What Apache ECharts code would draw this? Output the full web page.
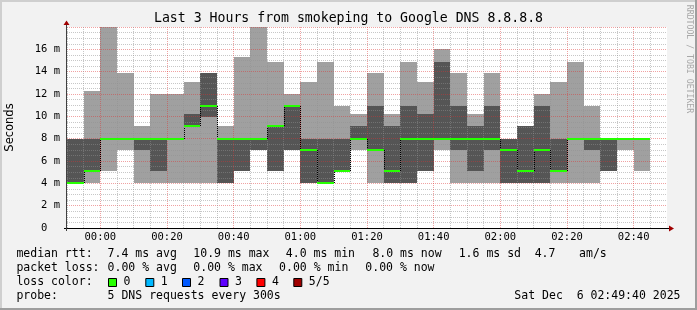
<!DOCTYPE html>
<html><head><meta charset="utf-8">
<script src="https://cdn.jsdelivr.net/npm/echarts@6/dist/echarts.min.js"></script>
<style>html,body{margin:0;padding:0;background:#f2f2f2}#c{width:697px;height:310px}</style>
</head><body><div id="c"></div>
<script>
// ---- data (ms) ----
const slots = ['23:50','23:55','00:00','00:05','00:10','00:15','00:20','00:25','00:30','00:35',
  '00:40','00:45','00:50','00:55','01:00','01:05','01:10','01:15','01:20','01:25',
  '01:30','01:35','01:40','01:45','01:50','01:55','02:00','02:05','02:10','02:15',
  '02:20','02:25','02:30','02:35','02:40'];
const ping1  = [4.0,4.0,5.1,7.0,4.0,4.0,4.0,4.0,4.0,4.0,5.1,7.0,5.1,7.0,4.0,4.0,5.1,7.0,4.0,4.0,4.0,5.1,7.0,4.0,4.0,4.0,4.0,4.0,4.0,4.0,4.0,4.0,5.1,7.0,5.1];
const ping2  = [4.0,5.1,8.0,8.0,7.0,5.1,8.0,9.1,9.9,4.0,5.1,7.0,5.1,7.0,4.0,4.0,5.1,8.0,7.0,4.0,4.0,5.1,8.0,7.0,5.1,7.0,4.0,4.0,4.0,5.1,8.0,7.0,5.1,8.0,8.0];
const median = [4.0,5.1,8.0,8.0,8.0,8.0,8.0,9.1,10.9,8.0,8.0,8.0,9.1,10.9,7.0,4.0,5.1,8.0,7.0,5.1,8.0,8.0,8.0,8.0,8.0,8.0,7.0,5.1,7.0,5.1,8.0,8.0,8.0,8.0,8.0];
const ping4  = [8.0,8.0,8.0,8.0,8.0,8.0,8.0,10.2,13.9,8.0,8.0,8.0,9.1,10.9,8.0,8.0,8.0,9.1,10.9,9.1,10.9,10.2,14.9,10.9,9.1,10.9,8.0,9.1,10.9,8.0,8.0,8.0,8.0,8.0,8.0];
const ping5  = [8.0,12.3,18.0,13.9,9.1,12.0,12.0,13.1,13.9,9.1,15.3,18.0,14.9,12.0,13.1,14.9,10.9,10.2,13.9,10.2,14.9,13.1,16.0,13.9,10.2,13.9,8.0,9.1,12.0,13.1,14.9,10.9,8.0,8.0,8.0];
const xTickLabels = ['00:00','00:20','00:40','01:00','01:20','01:40','02:00','02:20','02:40'];
const yTickLabels = ['0  ','2 m','4 m','6 m','8 m','10 m','12 m','14 m','16 m',''];
const titleText = 'Last 3 Hours from smokeping to Google DNS 8.8.8.8';
const legendRtt = ['median rtt:','7.4 ms avg','10.9 ms max','4.0 ms min','8.0 ms now','1.6 ms sd','4.7','am/s'];
const legendLoss = ['packet loss:','0.00 % avg','0.00 % max','0.00 % min','0.00 % now'];
const lossLabels = ['0','1','2','3','4','5/5'];
const lossColors = ['#26ff00','#00b8ff','#0059ff','#5e00ff','#ff0000','#a00000'];
const probeText = ['probe:','5 DNS requests every 300s','Sat Dec  6 02:49:40 2025'];
const STEP = 5;

// ---- helpers ----
const toMin = s => { const [h,m] = s.split(':').map(Number); let v = h*60+m; if (h >= 12) v -= 1440; return v; };
const MONO = 'DejaVu Sans Mono';
const G = 'rgba(143,143,143,0.5)', P = 'rgba(222,48,48,0.45)';
const data = slots.map((s,i) => [toMin(s), ping1[i], ping2[i], median[i], ping4[i], ping5[i], i > 0 ? median[i-1] : median[i]]);

function cols(api) {
  const t = api.value(0);
  const x0 = Math.round(api.coord([t, 0])[0]);
  const x1 = Math.round(api.coord([t + STEP, 0])[0]);
  const y = v => Math.round(api.coord([t, v])[1]);
  return {x0, x1, y};
}
function renderSmoke(params, api) {
  const {x0, x1, y} = cols(api);
  const y1 = y(api.value(1)), y2 = y(api.value(2)), y4 = y(api.value(4)), y5 = y(api.value(5));
  return {type:'group', children:[
    {type:'rect', shape:{x:x0, y:y5, width:x1-x0, height:y1-y5}, style:{fill:'#a0a0a0'}},
    {type:'rect', shape:{x:x0, y:y4, width:x1-x0, height:y2-y4}, style:{fill:'#555555'}}
  ]};
}
function renderMedian(params, api) {
  const {x0, x1, y} = cols(api);
  const ym = y(api.value(3)), yp = y(api.value(6));
  return {type:'group', children:[
    {type:'line', shape:{x1:x0+0.5, y1:yp, x2:x0+0.5, y2:ym}, style:{stroke:'#000', lineWidth:1, lineDash:[1,1]}},
    {type:'line', shape:{x1:x0, y1:ym, x2:x1, y2:ym}, style:{stroke:'#26ff00', lineWidth:2}}
  ]};
}

function txt(text, x, y, opts) {
  opts = opts || {};
  return {type:'text', x:x, y:y, rotation:opts.rotation || 0, z:100,
    style:{text:text, x:0, y:0, font:(opts.size||11.5)+'px '+(opts.family||MONO), fill:opts.color||'#000',
      align:opts.align||'left', textAlign:opts.align||'left', verticalAlign:'middle', textVerticalAlign:'middle'}};
}

const graphics = [
  {type:'rect', shape:{x:0,y:0,width:697,height:2}, style:{fill:'#cfcfcf'}},
  {type:'rect', shape:{x:0,y:0,width:2,height:310}, style:{fill:'#cfcfcf'}},
  {type:'rect', shape:{x:695,y:0,width:2,height:310}, style:{fill:'#9e9e9e'}},
  {type:'rect', shape:{x:0,y:308,width:697,height:2}, style:{fill:'#9e9e9e'}},
  // axes lines + arrows
  {type:'line', z:50, shape:{x1:64, y1:228.5, x2:670, y2:228.5}, style:{stroke:'#000', lineWidth:1}},
  {type:'polygon', z:50, shape:{points:[[669,225.5],[674,228.5],[669,231.5]]}, style:{fill:'#a00000'}},
  {type:'line', z:50, shape:{x1:66.5, y1:231, x2:66.5, y2:24}, style:{stroke:'#404040', lineWidth:1}},
  {type:'polygon', z:50, shape:{points:[[63.5,25],[66.5,20.5],[69.5,25]]}, style:{fill:'#a00000'}},
  txt(titleText, 348.5, 19, {size:13.2, align:'center'}),
  txt('Seconds', 10.5, 127.5, {size:11.5, family:'DejaVu Sans', align:'center', rotation:Math.PI/2}),
  txt('RRDTOOL / TOBI OETIKER', 688.7, 59, {size:8.2, color:'#a8a8a8', align:'center', rotation:-Math.PI/2})
];
const rttX = [16.4,107.6,193.3,285.8,372.4,458.7,534.7,579.1];
legendRtt.forEach((s,i) => graphics.push(txt(s, rttX[i], 254.5)));
const lossX = [16.4,107.6,193.3,279.1,365.3];
legendLoss.forEach((s,i) => graphics.push(txt(s, lossX[i], 268.5)));
graphics.push(txt('loss color:', 16.4, 282.5));
const boxX = [108,145.3,182,219.5,256.4,293.3];
lossLabels.forEach((s,i) => {
  graphics.push({type:'rect', z:100, shape:{x:boxX[i]+0.5, y:278.5, width:8, height:8}, style:{fill:lossColors[i], stroke:'#000', lineWidth:1}});
  graphics.push(txt(s, boxX[i]+15.5, 282.5));
});
graphics.push(txt(probeText[0], 16.4, 296.5));
graphics.push(txt(probeText[1], 107.6, 296.5));
graphics.push(txt(probeText[2], 680.5, 296.5, {align:'right'}));

const chart = echarts.init(document.getElementById('c'), null, {renderer:'canvas'});
chart.setOption({
  animation:false,
  backgroundColor:'#f2f2f2',
  grid:{left:67, right:30, top:27, bottom:82, show:true, backgroundColor:'#ffffff', borderWidth:0, z:0},
  xAxis:{type:'value', min:-10, max:170, interval:5, z:5,
    axisLine:{show:false}, axisTick:{show:false},
    axisLabel:{formatter:v => (v >= 0 && v % 20 === 0 ? (xTickLabels[v/20] || '') : ''), margin:4,
      fontFamily:MONO, fontSize:10.5, color:'#000', showMinLabel:true, showMaxLabel:true},
    splitLine:{show:true, showMaxLine:false, lineStyle:{color:[G,G,P,G], type:[1,1], width:1}}},
  yAxis:{type:'value', min:0, max:18, interval:2, z:5,
    axisLine:{show:false}, axisTick:{show:false},
    axisLabel:{formatter:v => yTickLabels[Math.round(v/2)], margin:7, fontFamily:MONO, fontSize:10.5, color:'#000'},
    splitLine:{show:true, lineStyle:{color:P, type:[1,1], width:1}},
    minorTick:{show:false, splitNumber:4},
    minorSplitLine:{show:true, lineStyle:{color:G, type:[1,1], width:1}}},
  series:[
    {type:'custom', renderItem:renderSmoke, data:data, encode:{x:0, y:[1,5]}, clip:true, silent:true, z:2},
    {type:'custom', renderItem:renderMedian, data:data, encode:{x:0, y:3}, clip:true, silent:true, z:8}
  ],
  graphic:graphics
});
</script></body></html>
